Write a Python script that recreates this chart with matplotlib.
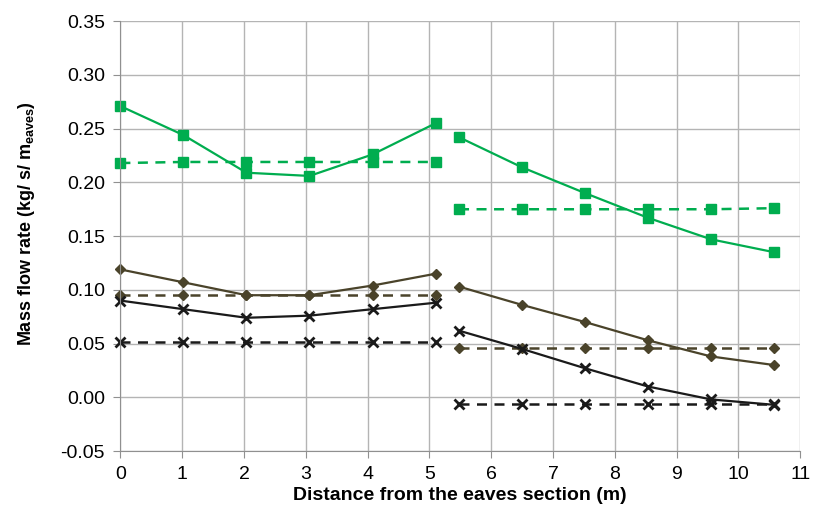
import matplotlib
matplotlib.use('Agg')
import matplotlib.pyplot as plt
from matplotlib import font_manager

# pick a narrow sans font if there is one
names = set(f.name for f in font_manager.fontManager.ttflist)
fam = 'Liberation Sans Narrow' if 'Liberation Sans Narrow' in names else 'Liberation Sans'
plt.rcParams['font.family'] = [fam, 'DejaVu Sans']
plt.rcParams['mathtext.fontset'] = 'custom'
plt.rcParams['mathtext.rm'] = fam + ':bold'
plt.rcParams['mathtext.default'] = 'rm'

# distances (m), two roof sections
x_left = [0, 1.02, 2.04, 3.06, 4.08, 5.10]
x_right = [5.48, 6.50, 7.52, 8.54, 9.56, 10.58]

# green squares
sq_solid_left = [0.271, 0.244, 0.209, 0.206, 0.226, 0.255]
sq_solid_right = [0.242, 0.214, 0.190, 0.167, 0.147, 0.135]
sq_dash_left = [0.218, 0.219, 0.219, 0.219, 0.219, 0.219]
sq_dash_right = [0.175, 0.175, 0.175, 0.175, 0.175, 0.176]

# olive diamonds
dm_solid_left = [0.119, 0.107, 0.095, 0.095, 0.104, 0.115]
dm_solid_right = [0.103, 0.086, 0.070, 0.053, 0.038, 0.030]
dm_dash_left = [0.095, 0.095, 0.095, 0.095, 0.095, 0.095]
dm_dash_right = [0.046, 0.046, 0.046, 0.046, 0.046, 0.046]

# black crosses
xx_solid_left = [0.090, 0.082, 0.074, 0.076, 0.082, 0.088]
xx_solid_right = [0.062, 0.045, 0.027, 0.010, -0.002, -0.007]
xx_dash_left = [0.051, 0.051, 0.051, 0.051, 0.051, 0.051]
xx_dash_right = [-0.006, -0.006, -0.006, -0.006, -0.006, -0.006]

green = '#00ad4f'
olive = '#4a432a'
black = '#1a1a1a'

fig = plt.figure(figsize=(8.19, 5.30), dpi=100)
ax = fig.add_axes([0.147, 0.149, 0.830, 0.811])

ax.grid(True, color='#b4b4b4', linewidth=1.0)
ax.set_axisbelow(True)

for xs, a, b, c, d in [(x_left, sq_solid_left, sq_dash_left, dm_solid_left, dm_dash_left),
                       (x_right, sq_solid_right, sq_dash_right, dm_solid_right, dm_dash_right)]:
    ax.plot(xs, a, color=green, lw=1.6, marker='s', ms=7, clip_on=False)
    ax.plot(xs, b, color=green, lw=1.8, ls=(0, (4, 3)), marker='s', ms=7, clip_on=False)
    ax.plot(xs, c, color=olive, lw=1.6, marker='D', ms=5, clip_on=False)
    ax.plot(xs, d, color=olive, lw=1.8, ls=(0, (4, 3)), marker='D', ms=5, clip_on=False)

for xs, a, b in [(x_left, xx_solid_left, xx_dash_left),
                 (x_right, xx_solid_right, xx_dash_right)]:
    ax.plot(xs, a, color=black, lw=1.6, marker='x', ms=7, mew=2, clip_on=False)
    ax.plot(xs, b, color=black, lw=1.8, ls=(0, (4, 3)), marker='x', ms=7, mew=2, clip_on=False)

ax.set_xlim(0, 11)
ax.set_ylim(-0.05, 0.35)
ax.set_xticks(range(0, 12))
ax.set_yticks([-0.05, 0, 0.05, 0.10, 0.15, 0.20, 0.25, 0.30, 0.35])
ax.set_yticklabels(['-0.05', '0.00', '0.05', '0.10', '0.15', '0.20', '0.25', '0.30', '0.35'])
ax.tick_params(labelsize=14, length=5, color='#909090', pad=6)

for s in ['top', 'right']:
    ax.spines[s].set_visible(False)
for s in ['left', 'bottom']:
    ax.spines[s].set_color('#909090')

ax.set_xlabel('Distance from the eaves section (m)', fontsize=14, fontweight='bold', labelpad=3)
ax.set_ylabel(r'Mass flow rate (kg/ s/ m$_{\mathrm{eaves}}$)', fontsize=13, fontweight='bold')
ax.yaxis.set_label_coords(-0.122, 0.53)

fig.savefig('out.png', dpi=100)
